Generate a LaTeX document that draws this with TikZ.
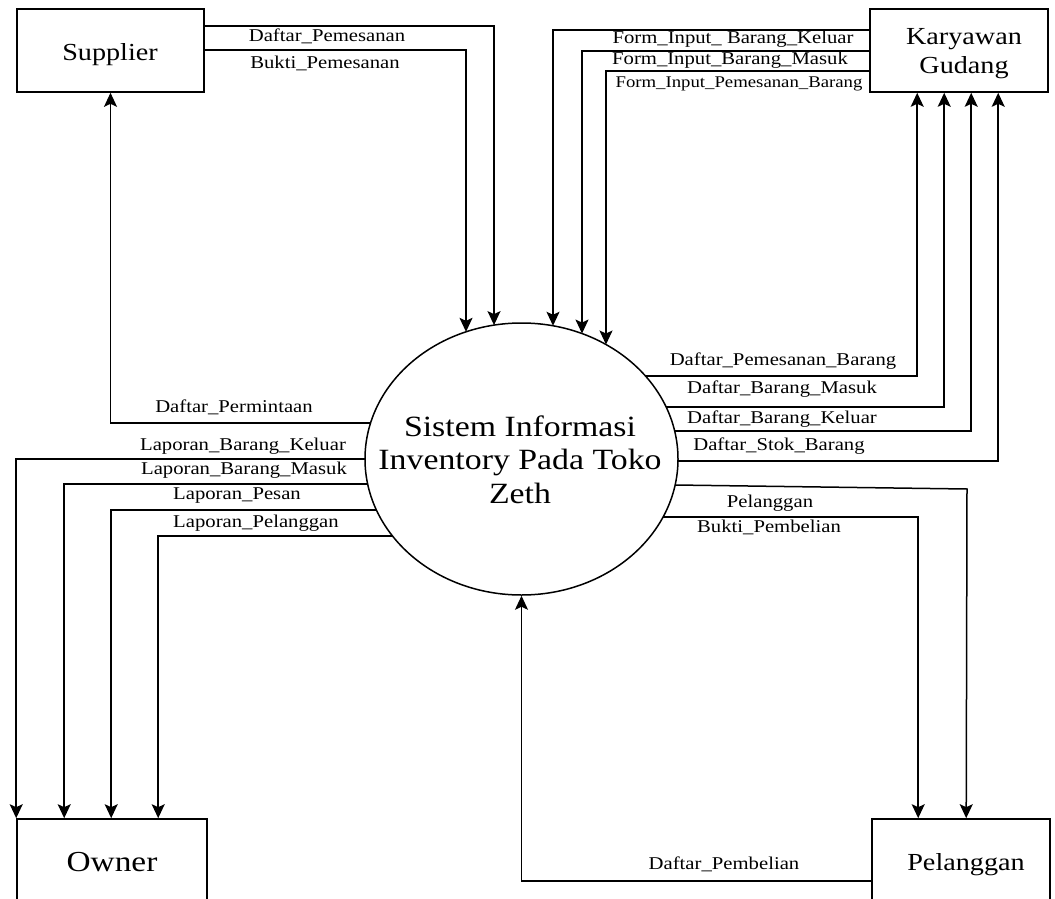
\documentclass[tikz,border=0pt]{standalone}
\usepackage{fontspec}
\setmainfont{Liberation Serif}[FakeStretch=1.15]
\usetikzlibrary{arrows.meta,calc,shapes.geometric}
\newcommand\etopy[1]{459-136*sqrt(1-((#1-521.5)/156.5)*((#1-521.5)/156.5))}
\newcommand\erx[1]{521.5+156.5*sqrt(1-((#1-459)/136)*((#1-459)/136))}
\newcommand\elx[1]{521.5-156.5*sqrt(1-((#1-459)/136)*((#1-459)/136))}
\tikzset{
  flow/.style={draw, line width=1.5pt, -{Stealth[length=14pt,width=13pt,inset=3pt]}},
  ent/.style={draw, line width=1.6pt, rectangle, inner sep=0pt},
  lbl/.style={anchor=base, inner sep=0pt, font=\fontsize{18}{20}\selectfont},
  lbls/.style={anchor=base, inner sep=0pt, font=\fontsize{16.3}{18}\selectfont},
  etxt/.style={anchor=base, inner sep=0pt, font=\fontsize{24.5}{29}\selectfont},
}
\begin{document}
\begin{tikzpicture}[x=1pt,y=-1pt]
\useasboundingbox (0,0) rectangle (1055,899);
\clip (0,0) rectangle (1055,899);
\fill[white] (0,0) rectangle (1055,899);

% entities
\node[ent, minimum width=187pt, minimum height=83pt] (sup) at (110.5,50.5) {};
\node[ent, minimum width=178pt, minimum height=83pt] (kar) at (959,50.5) {};
\node[ent, minimum width=190pt, minimum height=100pt] (own) at (112,869) {};
\node[ent, minimum width=178pt, minimum height=100pt] (pel) at (961,869) {};
\node[etxt] (supt) at (110,61) {Supplier};
\node[anchor=center, inner sep=0pt, align=center, font=\fontsize{24.5}{29}\selectfont] (kart) at (964,54) {Karyawan\\Gudang};
\node[anchor=base, inner sep=0pt, font=\fontsize{29}{33}\selectfont] (ownt) at (112,871) {Owner};
\node[etxt] (pelt) at (966,870) {Pelanggan};

% process
\node[draw, ellipse, line width=1.5pt, minimum width=313pt, minimum height=272pt, inner sep=0pt] (E) at (521.5,459) {};
\node[anchor=center, inner sep=0pt, align=center, font=\fontsize{29.4}{33.5}\selectfont] (Et) at (520,459.5) {Sistem Informasi\\Inventory Pada Toko\\Zeth};

% border points on the ellipse
\coordinate (t466) at (466,{\etopy{466}});
\coordinate (t494) at (494,{\etopy{494}});
\coordinate (t553) at (553,{\etopy{553}});
\coordinate (t582) at (582,{\etopy{582}});
\coordinate (t606) at (606,{\etopy{606}});
\coordinate (r376) at ({\erx{376}},376);
\coordinate (r407) at ({\erx{407}},407);
\coordinate (r431) at ({\erx{431}},431);
\coordinate (r461) at ({\erx{461}},461);
\coordinate (r485) at ({\erx{485}},485);
\coordinate (r517) at ({\erx{517}},517);
\coordinate (l423) at ({\elx{423}},423);
\coordinate (l459) at ({\elx{459}},459);
\coordinate (l484) at ({\elx{484}},484);
\coordinate (l510) at ({\elx{510}},510);
\coordinate (l536) at ({\elx{536}},536);
\coordinate (pb) at (967,489);

% Supplier flows
\draw[flow] ($(sup.north east)+(0,18)$) -| (t494);
\draw[flow] ($(sup.north east)+(0,42)$) -| (t466);
\draw[flow] (l423) -| (sup.south);

% Karyawan Gudang flows
\draw[flow] ($(kar.north west)+(0,22)$) -| (t553);
\draw[flow] ($(kar.north west)+(0,43)$) -| (t582);
\draw[flow] ($(kar.north west)+(0,63)$) -| (t606);
\draw[flow] (r376) -| ($(kar.south west)+(48,0)$);
\draw[flow] (r407) -| ($(kar.south west)+(75,0)$);
\draw[flow] (r431) -| ($(kar.south west)+(102,0)$);
\draw[flow] (r461) -| ($(kar.south west)+(129,0)$);

% Pelanggan flows
\draw[flow] (r485) -- (pb) -- ($(pel.north west)+(95,0)$);
\draw[flow] (r517) -| ($(pel.north west)+(47,0)$);
\draw[flow] ($(pel.north west)+(0,63)$) -| (E.south);

% Owner flows
\draw[flow] (l459) -| (own.north west);
\draw[flow] (l484) -| ($(own.north west)+(48,0)$);
\draw[flow] (l510) -| ($(own.north west)+(95,0)$);
\draw[flow] (l536) -| ($(own.north west)+(142,0)$);

% labels
\node[lbl] (L1) at (327,42) {Daftar\_Pemesanan};
\node[lbl] (L2) at (325,69) {Bukti\_Pemesanan};
\node[lbl] (L3) at (733,44) {Form\_Input\_ Barang\_Keluar};
\node[lbl] (L4) at (730,65) {Form\_Input\_Barang\_Masuk};
\node[lbls] (L5) at (739,88) {Form\_Input\_Pemesanan\_Barang};
\node[lbl] (L6) at (783,365) {Daftar\_Pemesanan\_Barang};
\node[lbl] (L7) at (782,393) {Daftar\_Barang\_Masuk};
\node[lbl] (L8) at (782,423) {Daftar\_Barang\_Keluar};
\node[lbl] (L9) at (779,450) {Daftar\_Stok\_Barang};
\node[lbl] (L10) at (770,507) {Pelanggan};
\node[lbl] (L11) at (769,532) {Bukti\_Pembelian};
\node[lbl] (L12) at (234,412) {Daftar\_Permintaan};
\node[lbl] (L13) at (243,450) {Laporan\_Barang\_Keluar};
\node[lbl] (L14) at (244,474) {Laporan\_Barang\_Masuk};
\node[lbl] (L15) at (237,499) {Laporan\_Pesan};
\node[lbl] (L16) at (256,527) {Laporan\_Pelanggan};
\node[lbl] (L17) at (724,869) {Daftar\_Pembelian};
\end{tikzpicture}
\end{document}
